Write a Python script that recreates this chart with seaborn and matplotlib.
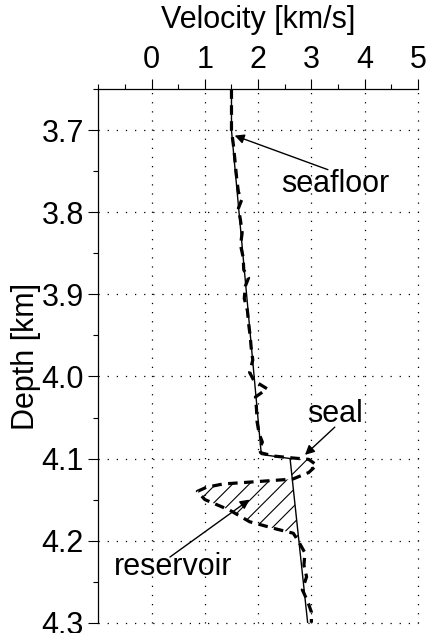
import numpy as np
import pandas as pd
import matplotlib
matplotlib.use("Agg")
import matplotlib.pyplot as plt
import seaborn as sns

# Smooth background velocity model
model_depth = [3.65, 3.70, 4.095, 4.10, 4.30]
model_vel = [1.50, 1.50, 2.06, 2.60, 2.93]

# Well-log velocity (dashed)
log_depth = [3.65, 3.70, 3.72, 3.74, 3.76, 3.775, 3.785, 3.795, 3.81, 3.825,
             3.84, 3.855, 3.87, 3.88, 3.89, 3.905, 3.92, 3.935, 3.95, 3.965,
             3.98, 3.995, 4.005, 4.015, 4.025, 4.04, 4.055, 4.07, 4.08, 4.088,
             4.093, 4.097, 4.099, 4.101, 4.108, 4.117, 4.125, 4.128, 4.131,
             4.135, 4.140, 4.150, 4.163, 4.177, 4.186, 4.191, 4.20, 4.215,
             4.23, 4.244, 4.26, 4.274, 4.287, 4.30]
log_vel = [1.50, 1.50, 1.54, 1.57, 1.60, 1.63, 1.69, 1.63, 1.67, 1.70,
           1.67, 1.72, 1.73, 1.82, 1.76, 1.74, 1.80, 1.82, 1.85, 1.87,
           1.90, 1.84, 1.92, 2.17, 1.95, 1.97, 1.98, 2.02, 2.08, 2.02,
           2.05, 2.30, 2.60, 2.95, 3.10, 2.95, 2.65, 2.00, 1.34,
           1.03, 0.86, 1.00, 1.47, 1.84, 2.35, 2.66, 2.75, 2.88,
           2.86, 2.91, 2.83, 2.93, 3.00, 3.00]

x_ticks = [0, 1, 2, 3, 4, 5]
y_ticks = [3.7, 3.8, 3.9, 4.0, 4.1, 4.2, 4.3]

sns.set_style("ticks")
plt.rcParams["font.family"] = ["Liberation Sans", "DejaVu Sans"]
plt.rcParams["hatch.linewidth"] = 0.8
plt.rcParams["text.color"] = "k"
plt.rcParams["axes.labelcolor"] = "k"
plt.rcParams["xtick.labelcolor"] = "k"
plt.rcParams["ytick.labelcolor"] = "k"

FS = 22

model = pd.DataFrame({"depth": model_depth, "vel": model_vel})
log = pd.DataFrame({"depth": log_depth, "vel": log_vel})

fig = plt.figure(figsize=(4.26, 6.33), dpi=100)
ax = fig.add_axes([0.2308, 0.0163, 0.7502, 0.8427])

# Hatched anomaly zone (seal + reservoir) between log and model
zone = log[(log.depth >= 4.099) & (log.depth <= 4.20)]
zone_d = zone.depth.to_numpy()
back_d = zone_d[::-1]
back_v = np.interp(back_d, model_depth, model_vel)
ax.fill(np.concatenate([zone.vel.to_numpy(), back_v]),
        np.concatenate([zone_d, back_d]),
        facecolor="none", edgecolor="k", hatch="//", linewidth=0, zorder=1)

sns.lineplot(data=model, x="vel", y="depth", sort=False, estimator=None,
             color="k", linewidth=1.0, ax=ax, zorder=3)
sns.lineplot(data=log, x="vel", y="depth", sort=False, estimator=None,
             color="k", linewidth=2.3, linestyle=(0, (3.0, 2.0)), ax=ax,
             zorder=2)

ax.set_xlim(-1, 5)
ax.set_ylim(4.30, 3.65)
ax.xaxis.tick_top()
ax.xaxis.set_label_position("top")
ax.set_xticks(x_ticks)
ax.set_xticks(np.arange(-1, 5.01, 0.5), minor=True)
ax.set_yticks(y_ticks)
ax.set_yticks(np.arange(3.65, 4.301, 0.05), minor=True)
ax.set_xticklabels([str(t) for t in x_ticks])
ax.set_yticklabels([f"{t:.1f}" for t in y_ticks])
ax.tick_params(which="major", length=7.5, width=0.8, labelsize=FS, pad=3,
               direction="out", color="k")
ax.tick_params(which="minor", length=3.8, width=0.8, direction="out", color="k")
ax.set_xlabel("Velocity [km/s]", fontsize=FS, labelpad=12)
ax.set_ylabel("Depth [km]", fontsize=FS, labelpad=0)

for side in ("right", "bottom"):
    ax.spines[side].set_visible(False)
for side in ("left", "top"):
    ax.spines[side].set_linewidth(0.9)
    ax.spines[side].set_color("k")

ax.grid(True, which="major", color="k", linewidth=0.9,
        linestyle=(0, (1, 6.3)))
for gl in ax.get_xgridlines() + ax.get_ygridlines():
    gl.set_clip_on(False)
ax.set_axisbelow(True)

arrow = dict(arrowstyle="-|>", color="k", lw=1.0, mutation_scale=14,
             shrinkA=0, shrinkB=0)
ax.annotate("", xy=(1.56, 3.7065), xytext=(3.31, 3.748), arrowprops=arrow)
ax.text(3.44, 3.765, "seafloor", fontsize=FS, ha="center", va="center")
ax.annotate("", xy=(2.88, 4.0955), xytext=(3.44, 4.0617), arrowprops=arrow)
ax.text(3.44, 4.0455, "seal", fontsize=FS, ha="center", va="center")
ax.annotate("", xy=(1.84, 4.150), xytext=(0.345, 4.220), arrowprops=arrow)
ax.text(0.4, 4.232, "reservoir", fontsize=FS, ha="center", va="center")

fig.savefig("out.png", dpi=100)
